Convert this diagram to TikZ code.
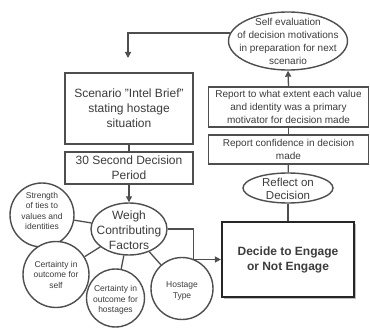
\documentclass[tikz,border=0pt]{standalone}
\usepackage{fontspec}
\setmainfont{Liberation Sans}
\usetikzlibrary{shapes.geometric,arrows.meta,shadows}
\definecolor{ln}{RGB}{78,78,78}
\definecolor{tx}{RGB}{60,60,60}
\begin{document}
\begin{tikzpicture}[x=1pt,y=-1pt,
  box/.style={draw=ln, line width=1.4pt, fill=white, inner sep=0pt, align=center, text=tx},
  shp/.style={draw=ln, line width=1.4pt, fill=white, inner sep=0pt},
  lbl/.style={align=center, text=tx, inner sep=0pt},
  con/.style={draw=ln, line width=1.3pt},
  arr/.style={con, -{Triangle[length=6pt,width=6pt]}},
  fA/.style={font=\fontsize{12}{15}\selectfont},
  fB/.style={font=\fontsize{10}{13}\selectfont},
  fC/.style={font=\fontsize{8.5}{10.5}\selectfont},
]
\useasboundingbox (0,0) rectangle (370,329);

% top ellipse
\node[shp, ellipse, minimum width=119pt, minimum height=58pt] (se) at (288,41) {};
\node[lbl, fB] (set) at (se) {Self evaluation\\of decision motivations\\in preparation for next\\scenario};

% left boxes
\node[box, fA, minimum width=128pt, minimum height=71pt] (sc) at (129,108.5) {Scenario "Intel Brief"\\stating hostage\\situation};
\node[box, fA, minimum width=128pt, minimum height=32pt] (sd) at (129,168) {30 Second Decision\\Period};

% weigh ellipse
\node[shp, ellipse, minimum width=76pt, minimum height=52pt] (w) at (129,229) {};
\node[lbl, fA] (wt) at (129,230) {Weigh\\Contributing\\Factors};

% factor circles
\node[shp, circle, minimum size=64pt] (st) at (42,215) {};
\node[lbl, fC] (stt) at (42,211) {Strength\\of ties to\\values and\\identities};
\node[shp, circle, minimum size=66pt] (cs) at (56,274.5) {};
\node[lbl, fC] (cst) at (56,274.5) {Certainty in\\outcome for\\self};
\node[shp, circle, minimum size=58pt] (ch) at (115.5,298) {};
\node[lbl, fC] (cht) at (115.5,300) {Certainty in\\outcome for\\hostages};
\node[shp, circle, minimum size=62pt] (ht) at (182,288.5) {};
\node[lbl, fC] (htt) at (182,291) {Hostage\\Type};

% right column
\node[box, fB, minimum width=160pt, minimum height=40pt] (r1) at (288.5,107) {Report to what extent each value\\and identity was a primary\\motivator for decision made};
\node[box, fB, minimum width=160pt, minimum height=29pt] (r2) at (288.5,149.5) {Report confidence in decision\\made};
\node[shp, ellipse, minimum width=90pt, minimum height=30pt] (rf) at (288,188) {};
\node[lbl, font=\fontsize{11.5}{13}\selectfont] (rft) at (288,188.5) {Reflect on\\Decision};
\node[box, font=\bfseries\fontsize{12}{15}\selectfont, draw=black!85, line width=2.2pt,
      minimum width=132pt, minimum height=75pt,
      drop shadow={shadow xshift=1.5pt, shadow yshift=-1.5pt, fill=black, opacity=0.25}] (d) at (288,259.5) {Decide to Engage\\or Not Engage};

% connectors
\coordinate (tp) at (128,58);
\draw[arr] (se.172) -| (tp);
\draw[con] (sc) -- (sd);
\draw[arr] (sd) -- (w);
\draw[arr] (w.east) -- ++(26,0) |- (d.west);
\draw[con] (st) -- (w);
\draw[con] (cs) -- (w);
\draw[con] (ch) -- (w);
\draw[con] (ht) -- (w);
\draw[arr] (r1.north) -- (se.south);
\draw[con] (r1) -- (r2);
\draw[con] (r2) -- (rf);
\draw[con] (rf) -- (d);
\end{tikzpicture}
\end{document}
